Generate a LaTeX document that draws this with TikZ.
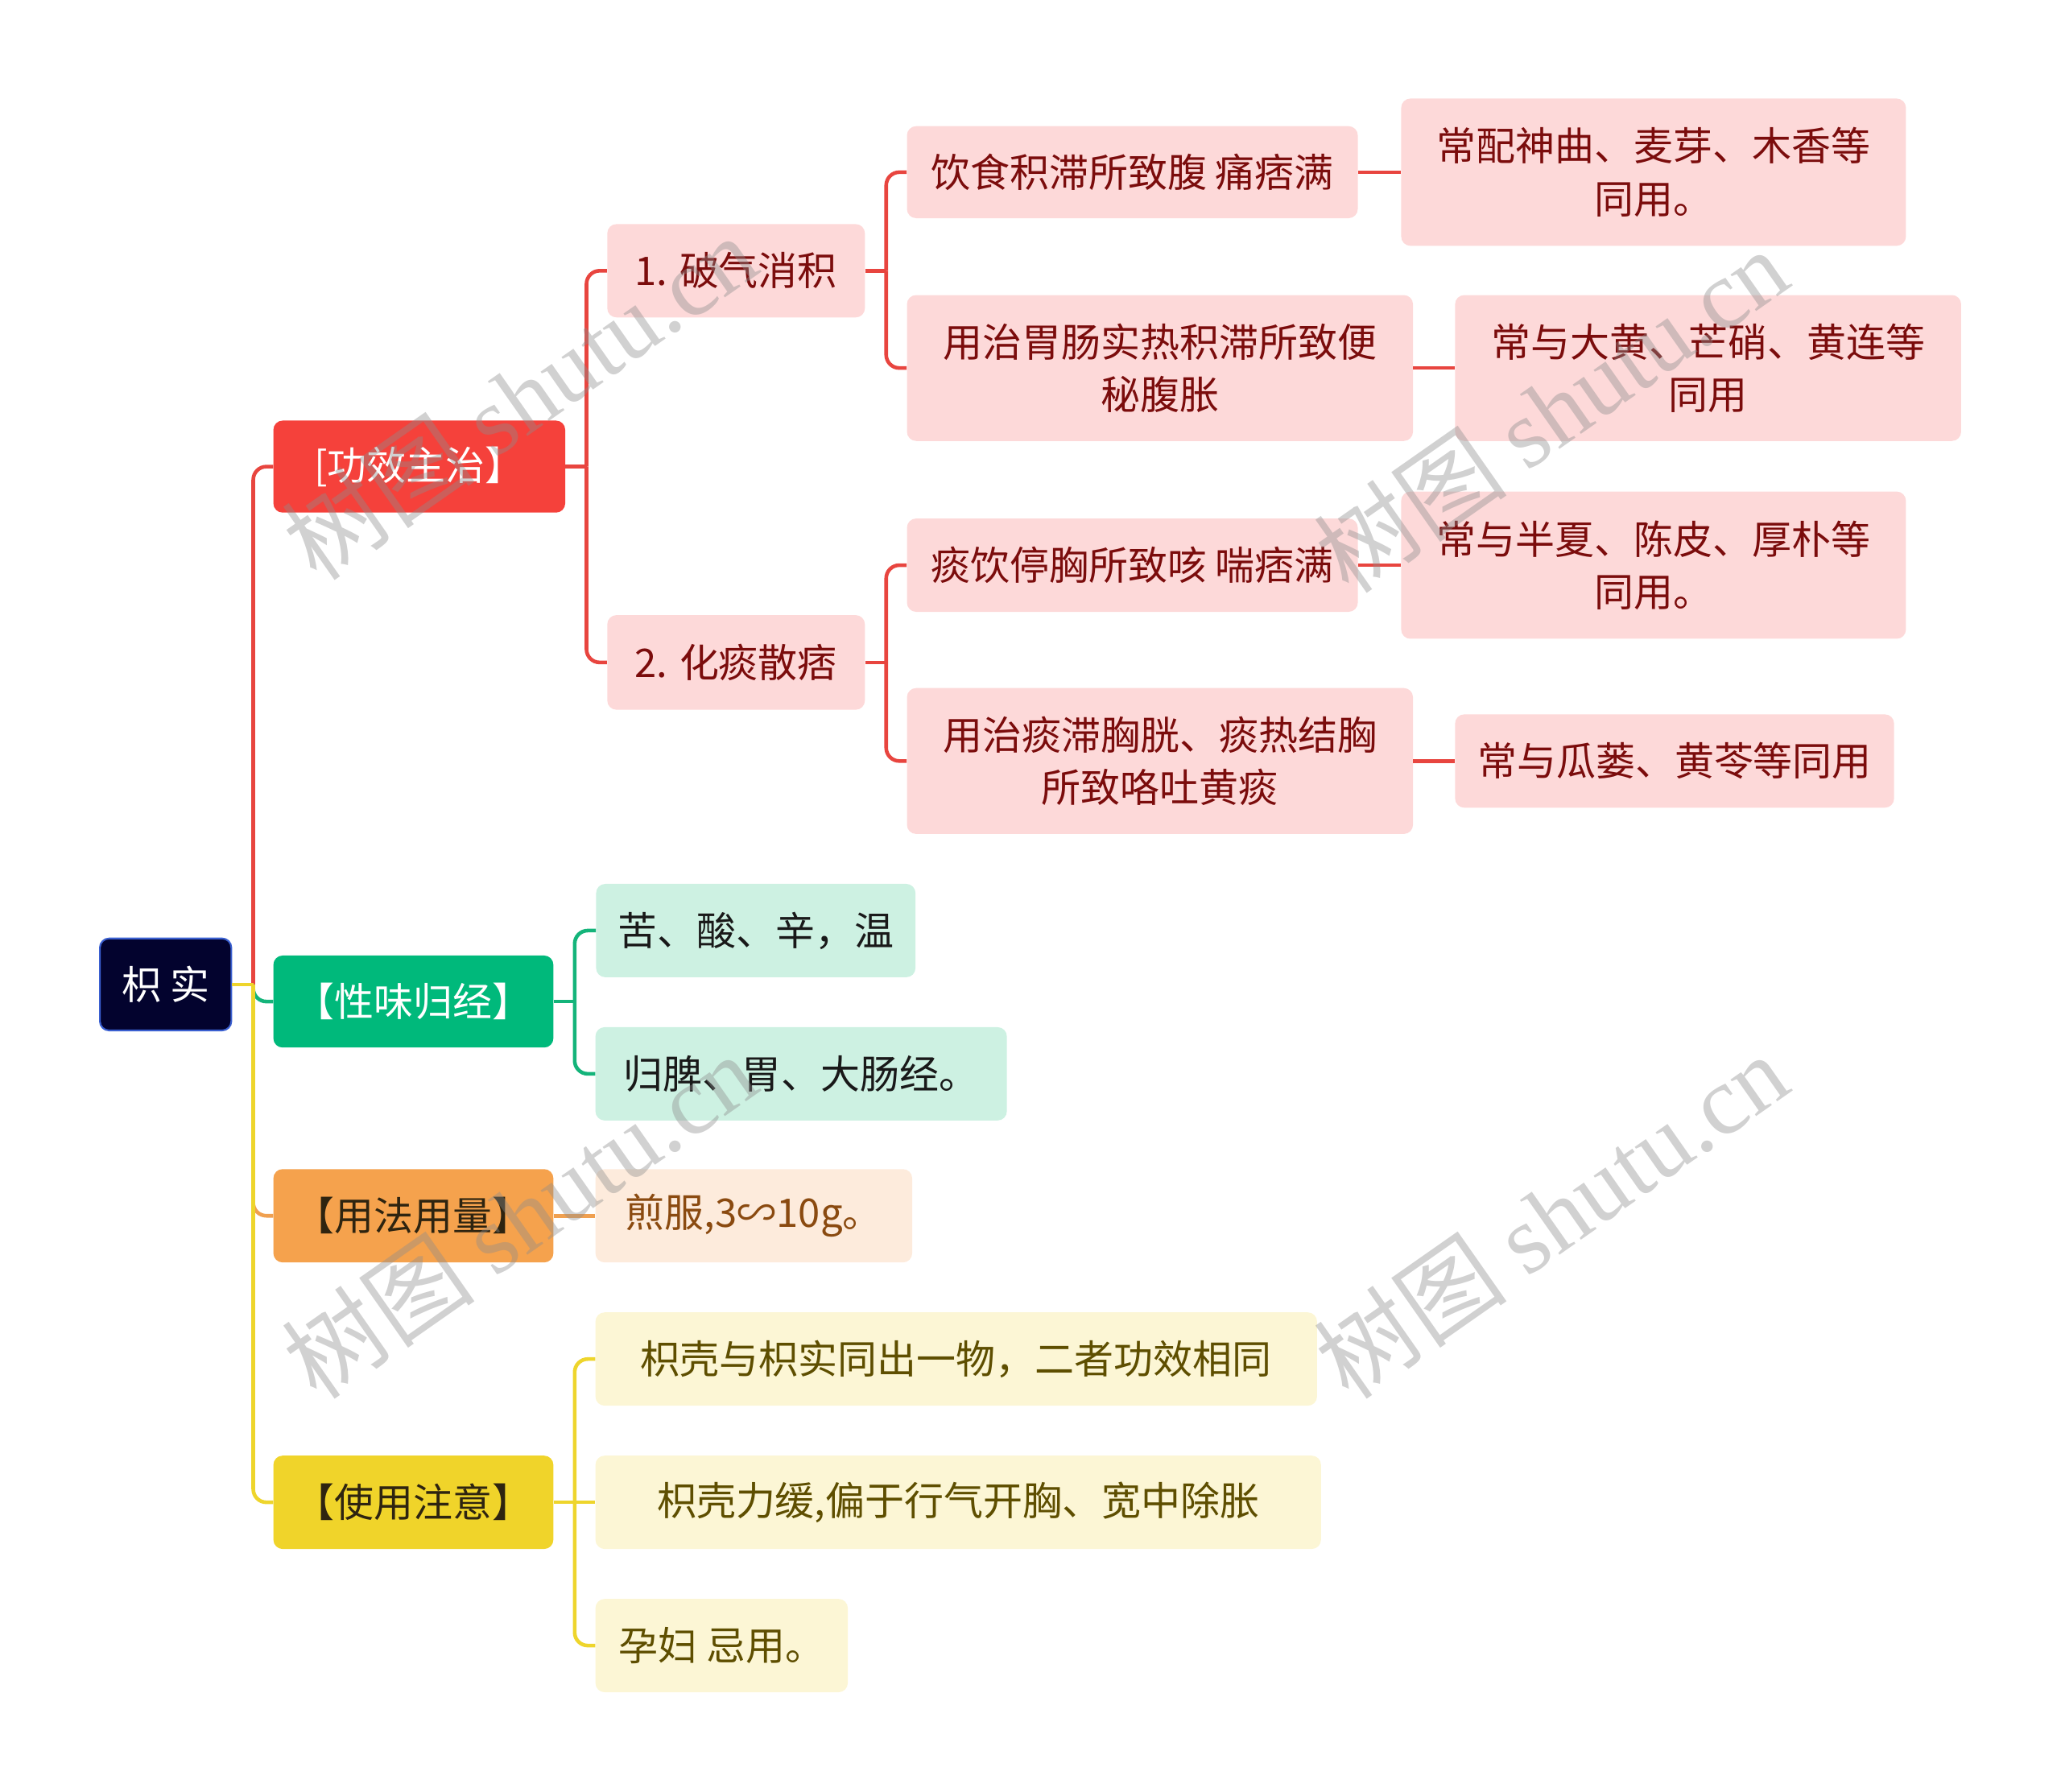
\documentclass[tikz,border=0pt]{standalone}
\usepackage{fontspec}
\setmainfont{Noto Sans CJK SC}
\newfontfamily\wmserif{Liberation Serif}
\usetikzlibrary{calc}
\definecolor{rootfill}{HTML}{03032E}
\definecolor{rootline}{HTML}{3A5FD0}
\definecolor{redfill}{HTML}{F5413B}
\definecolor{redline}{HTML}{E8453F}
\definecolor{pinkfill}{HTML}{FDD9D9}
\definecolor{pinktext}{HTML}{7B0C0C}
\definecolor{greenfill}{HTML}{00B97B}
\definecolor{greenline}{HTML}{14B47A}
\definecolor{mintfill}{HTML}{CDF1E2}
\definecolor{orangefill}{HTML}{F5A24D}
\definecolor{orangeline}{HTML}{F0A050}
\definecolor{peachfill}{HTML}{FDEBDC}
\definecolor{peachtext}{HTML}{8A4A10}
\definecolor{yellowfill}{HTML}{F0D42A}
\definecolor{yellowline}{HTML}{EED52C}
\definecolor{creamfill}{HTML}{FCF6D5}
\definecolor{creamtext}{HTML}{5E4E00}
\definecolor{darktext}{HTML}{2E2410}
\begin{document}
\begin{tikzpicture}[x=1pt,y=-1pt,
  box/.style={rounded corners=7pt, align=center, inner sep=0pt, font=\fontsize{30}{40}\selectfont},
  rootbox/.style={box, fill=rootfill, draw=rootline, line width=1.3pt, text=white},
  redbox/.style={box, fill=redfill, text=white},
  greenbox/.style={box, fill=greenfill, text=white},
  orangebox/.style={box, fill=orangefill, text=darktext},
  yellowbox/.style={box, fill=yellowfill, text=darktext},
  pinkbox/.style={box, fill=pinkfill, text=pinktext},
  mintbox/.style={box, fill=mintfill, text=black!90},
  peachbox/.style={box, fill=peachfill, text=peachtext},
  creambox/.style={box, fill=creamfill, text=creamtext},
  conn/.style={line width=2.8pt, rounded corners=10pt},
  cr/.style={conn, draw=redline},
  cg/.style={conn, draw=greenline},
  co/.style={conn, draw=orangeline},
  cy/.style={conn, draw=yellowline},
  wm/.style={rotate=35, text=black!45, text opacity=0.4, font=\fontsize{74}{74}\selectfont}
]
\path[use as bounding box] (0,0) rectangle (1568,1363);

% root
\node[rootbox, minimum width=100pt, minimum height=70pt] (root) at (126,749) {枳 实};

% level 1
\node[redbox, minimum width=222pt, minimum height=70pt] (g1) at (319,355) {[功效主治】};
\node[greenbox, minimum width=213pt, minimum height=70pt] (g2) at (314.5,762) {【性味归经】};
\node[orangebox, minimum width=213pt, minimum height=71pt] (g3) at (314.5,925) {【用法用量】};
\node[yellowbox, minimum width=213pt, minimum height=71pt] (g4) at (314.5,1143) {【使用注意】};

% level 2 (功效)
\node[pinkbox, minimum width=196pt, minimum height=71pt] (a1) at (560,206) {1. 破气消积};
\node[pinkbox, minimum width=196pt, minimum height=72pt] (a2) at (560,504) {2. 化痰散痞};

% level 3
\node[pinkbox, minimum width=343pt, minimum height=70pt] (b1) at (861.5,131) {饮食积滞所致腹 痛痞满};
\node[pinkbox, minimum width=385pt, minimum height=111pt] (b2) at (882.5,280) {用治胃肠实热积滞所致便\\秘腹胀};
\node[pinkbox, minimum width=343pt, minimum height=71pt] (b3) at (861.5,430) {痰饮停胸所致咳 喘痞满};
\node[pinkbox, minimum width=385pt, minimum height=111pt] (b4) at (882.5,579) {用治痰滞胸胱、痰热结胸\\所致咯吐黄痰};

% level 4
\node[pinkbox, minimum width=384pt, minimum height=112pt] (c1) at (1258,131) {常配神曲、麦芽、木香等\\同用。};
\node[pinkbox, minimum width=385pt, minimum height=111pt] (c2) at (1299.5,280) {常与大黄、芒硝、黄连等\\同用};
\node[pinkbox, minimum width=384pt, minimum height=112pt] (c3) at (1258,430) {常与半夏、陈皮、厚朴等\\同用。};
\node[pinkbox, minimum width=334pt, minimum height=71pt] (c4) at (1274,579) {常与瓜蒌、黄苓等同用};

% 性味归经 children
\node[mintbox, minimum width=243pt, minimum height=71pt] (d1) at (575,708) {苦、酸、辛，温};
\node[mintbox, minimum width=313pt, minimum height=71pt] (d2) at (609.5,817) {归脾、胃、大肠经。};

% 用法用量 child
\node[peachbox, minimum width=241pt, minimum height=71pt] (e1) at (573.5,925) {煎服,3∽10g。};

% 使用注意 children
\node[creambox, minimum width=549pt, minimum height=71pt] (f1) at (727.5,1034) {枳壳与枳实同出一物，二者功效相同};
\node[creambox, minimum width=552pt, minimum height=71pt] (f2) at (729,1143) {枳壳力缓,偏于行气开胸、宽中除胀};
\node[creambox, minimum width=192pt, minimum height=71pt] (f3) at (549,1252) {孕妇 忌用。};

% junction coordinates
\coordinate (rj) at ($(root.east)+(16,0)$);
\coordinate (j1) at ($(g1.east)+(16,0)$);
\coordinate (ja1) at ($(a1.east)+(16,0)$);
\coordinate (ja2) at ($(a2.east)+(16,0)$);
\coordinate (j2) at ($(g2.east)+(16,0)$);
\coordinate (j4) at ($(g4.east)+(16,0)$);

% root connectors
\draw[cr] (rj) |- (g1.west);
\draw[cg] (rj) |- (g2.west);
\draw[co] (rj) |- (g3.west);
\draw[cy] (rj) |- (g4.west);
\draw[cy, rounded corners=0pt] (root.east) -- (rj);

% 功效 connectors
\draw[cr, rounded corners=0pt] (g1.east) -- (j1);
\draw[cr] (j1) |- (a1.west);
\draw[cr] (j1) |- (a2.west);
\draw[cr, rounded corners=0pt] (a1.east) -- (ja1);
\draw[cr] (ja1) |- (b1.west);
\draw[cr] (ja1) |- (b2.west);
\draw[cr, rounded corners=0pt] (a2.east) -- (ja2);
\draw[cr] (ja2) |- (b3.west);
\draw[cr] (ja2) |- (b4.west);
\draw[cr] (b1.east) -- (c1.west);
\draw[cr] (b2.east) -- (c2.west);
\draw[cr] (b3.east) -- (c3.west);
\draw[cr] (b4.east) -- (c4.west);

% 性味 connectors
\draw[cg, rounded corners=0pt] (g2.east) -- (j2);
\draw[cg] (j2) |- (d1.west);
\draw[cg] (j2) |- (d2.west);

% 用法 connector
\draw[co] (g3.east) -- (e1.west);

% 使用注意 connectors
\draw[cy] (j4) |- (f1.west);
\draw[cy] (j4) |- (f3.west);
\draw[cy] (g4.east) -- (f2.west);

% watermarks
\node[wm] (w1) at (395,302) {树图 {\wmserif shutu.cn}};
\node[wm] (w2) at (1180,312) {树图 {\wmserif shutu.cn}};
\node[wm] (w3) at (395,925) {树图 {\wmserif shutu.cn}};
\node[wm] (w4) at (1180,925) {树图 {\wmserif shutu.cn}};
\end{tikzpicture}
\end{document}
